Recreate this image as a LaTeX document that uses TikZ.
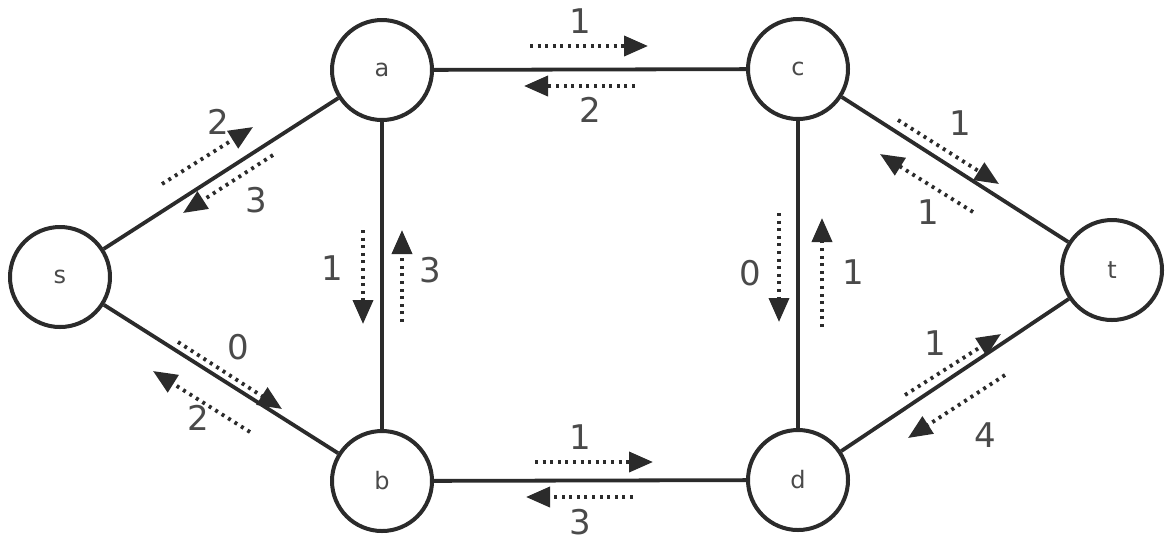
\documentclass[tikz,border=0pt]{standalone}
\usepackage{fontspec}
\setmainfont{DejaVu Sans}
\usetikzlibrary{arrows.meta}
\definecolor{ink}{HTML}{2B2B2B}
\definecolor{txt}{HTML}{4A4A4A}
\begin{document}
\begin{tikzpicture}[x=0.5pt,y=-0.5pt,
  vertex/.style={circle,draw=ink,line width=2pt,minimum size=50pt,inner sep=0pt,
    font=\fontsize{12}{14}\selectfont,text=txt,fill=white},
  edge/.style={draw=ink,line width=1.9pt},
  flow/.style={draw=ink,line width=1.9pt,dash pattern=on 1.5pt off 2.3pt,
    -{Triangle[length=12pt,width=10pt]}},
  lbl/.style={font=\fontsize{17}{20}\selectfont,text=txt,inner sep=0pt}]
\useasboundingbox (0,0) rectangle (1165,543);

% vertices
\node[vertex] (s) at (60,277) {s};
\node[vertex] (a) at (382,70) {a};
\node[vertex] (c) at (798,69) {c};
\node[vertex] (t) at (1112,270) {t};
\node[vertex] (b) at (382,481) {b};
\node[vertex] (d) at (798,480) {d};

% edges
\draw[edge] (s) -- (a);
\draw[edge] (s) -- (b);
\draw[edge] (a) -- (c);
\draw[edge] (a) -- (b);
\draw[edge] (c) -- (d);
\draw[edge] (b) -- (d);
\draw[edge] (c) -- (t);
\draw[edge] (d) -- (t);

% s-a
\draw[flow] (162,184) -- (253,127);
\node[lbl] (l1) at (218,122) {2};
\draw[flow] (273,155) -- (183,213);
\node[lbl] (l2) at (256,200) {3};

% a-c
\draw[flow] (530,46) -- (648,46);
\node[lbl] (l3) at (580,21) {1};
\draw[flow] (635,86) -- (524,86);
\node[lbl] (l4) at (590,110) {2};

% b-d
\draw[flow] (535,462) -- (653,462);
\node[lbl] (l5) at (580,437) {1};
\draw[flow] (633,497) -- (526,497);
\node[lbl] (l6) at (580,522) {3};

% a-b
\draw[flow] (363,230) -- (363,324);
\node[lbl] (l7) at (332,268) {1};
\draw[flow] (402,322) -- (402,230);
\node[lbl] (l8) at (430,270) {3};

% c-d
\draw[flow] (779,213) -- (779,322);
\node[lbl] (l9) at (750,273) {0};
\draw[flow] (822,327) -- (822,218);
\node[lbl] (l10) at (853,272) {1};

% c-t
\draw[flow] (898,120) -- (999,184);
\node[lbl] (l11) at (960,123) {1};
\draw[flow] (973,212) -- (880,154);
\node[lbl] (l12) at (928,212) {1};

% s-b
\draw[flow] (178,342) -- (282,409);
\node[lbl] (l13) at (238,347) {0};
\draw[flow] (250,432) -- (153,371);
\node[lbl] (l14) at (198,418) {2};

% d-t
\draw[flow] (905,395) -- (1001,334);
\node[lbl] (l15) at (935,343) {1};
\draw[flow] (1005,375) -- (908,438);
\node[lbl] (l16) at (985,435) {4};
\end{tikzpicture}
\end{document}
